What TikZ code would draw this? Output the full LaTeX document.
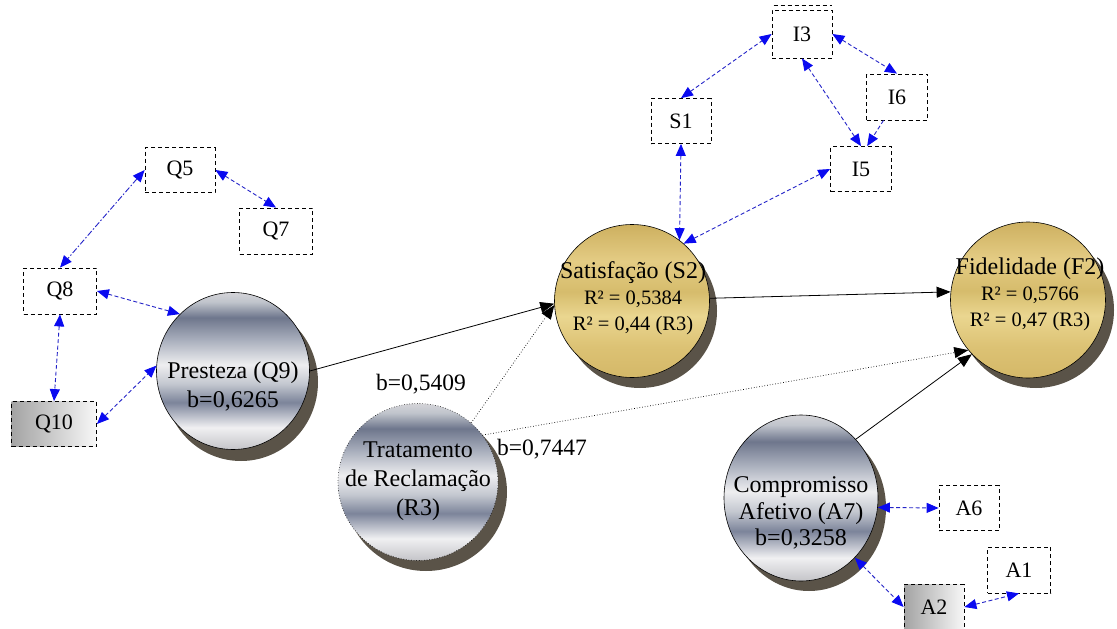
\documentclass[tikz,border=0pt]{standalone}
\usepackage{fontspec}
\setmainfont{Liberation Serif}
\usetikzlibrary{arrows.meta,shapes.geometric}
\definecolor{bl}{HTML}{2424C8}
\definecolor{blt}{HTML}{0A0AF0}
\definecolor{shad}{HTML}{5A5348}
\definecolor{mA}{HTML}{C4C4C8}
\definecolor{mB}{HTML}{F0F0F2}
\definecolor{mC}{HTML}{7C849A}
\definecolor{mD}{HTML}{C4C8D0}
\definecolor{mE}{HTML}{EEEEF0}
\definecolor{mF}{HTML}{A8AEBC}
\definecolor{mG}{HTML}{6E768C}
\definecolor{mH}{HTML}{C0C4CC}
\definecolor{mI}{HTML}{D4D4D8}
\definecolor{gA}{HTML}{D4B868}
\definecolor{gB}{HTML}{DCC274}
\definecolor{gC}{HTML}{EAD690}
\definecolor{gD}{HTML}{D6BC6C}
\definecolor{gE}{HTML}{E4CC84}
\definecolor{gF}{HTML}{CDB060}
\pgfdeclareverticalshading{metal}{100bp}{color(0bp)=(mA); color(25bp)=(mA); color(32bp)=(mB); color(40bp)=(mC); color(46bp)=(mD); color(52bp)=(mE); color(60bp)=(mF); color(67bp)=(mG); color(72bp)=(mH); color(75bp)=(mI); color(100bp)=(mI)}
\pgfdeclareverticalshading{gold}{100bp}{color(0bp)=(gA); color(25bp)=(gA); color(35bp)=(gB); color(45bp)=(gC); color(53bp)=(gD); color(63bp)=(gE); color(75bp)=(gF); color(100bp)=(gF)}
\tikzset{
  txt/.style={font=\fontsize{24}{29}\selectfont, align=center, inner sep=0pt},
  lbl/.style={font=\fontsize{23.5}{28}\selectfont, inner sep=0pt},
  boxn/.style={draw, line width=0.8pt, dash pattern=on 4pt off 3pt, minimum height=45pt, font=\fontsize{22}{26}\selectfont, inner sep=0pt},
  greybox/.style={boxn, left color=black!36, right color=black!3},
  metalc/.style={ellipse, draw, line width=0.6pt, shade, shading=metal},
  goldc/.style={ellipse, draw, line width=0.6pt, shade, shading=gold},
  blarr/.style={draw=bl, line width=0.9pt, dash pattern=on 4pt off 2.5pt, {Triangle[length=12pt,width=10pt,color=blt]}-{Triangle[length=12pt,width=10pt,color=blt]}},
  blone/.style={draw=bl, line width=0.9pt, dash pattern=on 4pt off 2.5pt, -{Triangle[length=12pt,width=10pt,color=blt]}},
  blk/.style={draw=black, line width=0.8pt, -{Triangle[length=14pt,width=11pt]}},
  dotarr/.style={draw=black, line width=0.7pt, dotted, -{Triangle[length=14pt,width=11pt]}},
}
\begin{document}
\begin{tikzpicture}[x=1pt,y=-1pt]
\useasboundingbox (0,0) rectangle (1117,629);
\fill[white] (0,0) rectangle (1117,629);
% shadows
\fill[shad] (241,382) ellipse[x radius=77pt, y radius=79pt];
\fill[shad] (426,492) ellipse[x radius=81pt, y radius=79pt];
\fill[shad] (640,311) ellipse[x radius=77pt, y radius=77pt];
\fill[shad] (1036,310) ellipse[x radius=78pt, y radius=78pt];
\fill[shad] (809,508) ellipse[x radius=77pt, y radius=83pt];
% latent variables
\node[metalc, minimum width=153pt, minimum height=157pt] (Pres) at (233,371) {};
\node[metalc, minimum width=160pt, minimum height=157pt, dotted] (Trat) at (418,482) {};
\node[goldc, minimum width=155pt, minimum height=153pt] (Sat) at (632,301) {};
\node[goldc, minimum width=155pt, minimum height=156pt] (Fid) at (1028,300) {};
\node[metalc, minimum width=154pt, minimum height=166pt] (Comp) at (801,498) {};
\node[txt] (PresT) at (233,387) {Presteza (Q9)\\b=0,6265};
\node[txt] (TratT) at (418,481) {Tratamento\\de Reclamação\\(R3)};
\node[txt, font=\fontsize{24}{26}\selectfont] (SatT) at (633,298) {Satisfação (S2)\\{\fontsize{20.5}{25}\selectfont R² = 0,5384}\\{\fontsize{20.5}{25}\selectfont R² = 0,44 (R3)}};
\node[txt, font=\fontsize{24}{26}\selectfont] (FidT) at (1030,294) {Fidelidade (F2)\\{\fontsize{20.5}{25}\selectfont R² = 0,5766}\\{\fontsize{20.5}{25}\selectfont R² = 0,47 (R3)}};
\node[txt, font=\fontsize{24}{26.5}\selectfont] (CompT) at (801,513) {Compromisso\\Afetivo (A7)\\b=0,3258};
% indicators
\node[boxn, minimum width=70pt] (Q5) at (180,170) {Q5};
\node[boxn, minimum width=73pt, minimum height=46pt] (Q7) at (276,231) {Q7};
\node[boxn, minimum width=73pt, minimum height=46pt] (Q8) at (60,291) {Q8};
\node[greybox, minimum width=85pt] (Q10) at (54,424) {Q10};
\node[boxn, minimum width=60pt] (S1) at (681,121) {S1};
\node[boxn, minimum width=60pt, minimum height=48pt] (I3) at (802,34) {I3};
\node[boxn, minimum width=61pt, minimum height=46pt] (I6) at (897,97) {I6};
\node[boxn, minimum width=61pt] (I5) at (861,169) {I5};
\node[boxn, minimum width=60pt] (A6) at (969,508) {A6};
\node[boxn, minimum width=63pt, minimum height=46pt] (A1) at (1019,570) {A1};
\node[greybox, minimum width=60pt] (A2) at (934,607) {A2};
\draw[line width=0.8pt, dash pattern=on 4pt off 3pt] ([xshift=2pt,yshift=4pt]I3.north west) -- ([yshift=4pt]I3.north east);
% labels
\node[lbl] (b1) at (421,384) {b=0,5409};
\node[lbl] (b2) at (542,449) {b=0,7447};
% structural paths
\draw[blk] (Pres.east) -- (Sat.182);
\draw[dotarr] (Trat.48) -- (Sat.183);
\draw[dotarr] (Trat.36) -- (Fid.220);
\draw[blk] (Sat.2) -- (Fid.174);
\draw[blk] (Comp.47) -- (Fid.224);
% measurement links
\draw[blarr, dash pattern=on 6pt off 2pt on 1.5pt off 2pt] (Q5.west) -- (Q8.north);
\draw[blarr] (Q5.east) -- (Q7.north);
\draw[blarr] (Q8.east) -- (Pres.133);
\draw[blarr] (Q8.south) -- (Q10.north);
\draw[blarr] (Q10.east) -- (Pres.176);
\draw[blarr] (S1.north) -- (I3.west);
\draw[blarr] (I3.east) -- (I6.north);
\draw[blarr] (I3.south) -- (I5.north);
\draw[blone] (I6.-120) -- (I5.75);
\draw[blarr] (S1.south) -- (Sat.52);
\draw[blarr] (I5.west) -- (Sat.48);
\draw[blarr] (Comp.-7) -- (A6.west);
\draw[blarr] (Comp.-48) -- (A2.west);
\draw[blarr] (A2.east) -- (A1.south);
\end{tikzpicture}
\end{document}
